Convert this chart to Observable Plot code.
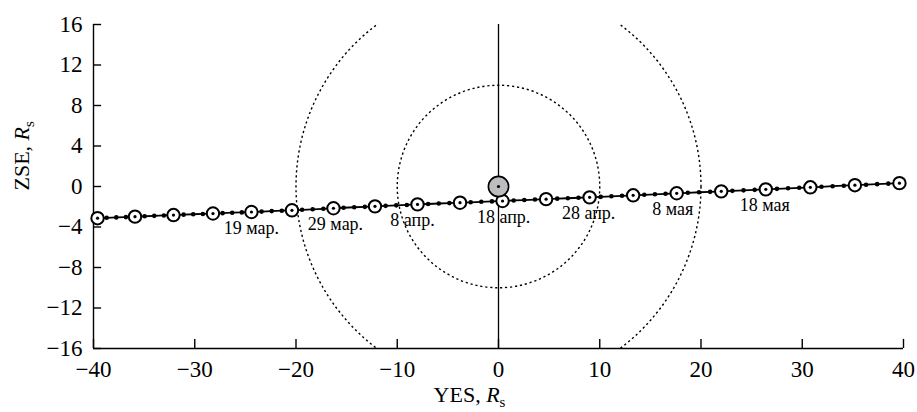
<!DOCTYPE html>
<html><head><meta charset="utf-8">
<script src="https://cdn.jsdelivr.net/npm/d3@7"></script>
<script src="https://cdn.jsdelivr.net/npm/@observablehq/plot@0.6"></script>
<style>body{margin:0;background:#fff}</style>
</head><body><div id="chart"></div>
<script>
// Big (open) markers along the trajectory
const circleX = [-39.6, -35.9, -32.1, -28.2, -24.4, -20.4, -16.3, -12.2, -8.0, -3.8, 0.4, 4.7, 9.0, 13.3, 17.6, 22.0, 26.4, 30.8, 35.2, 39.6];
const circleY = [-3.13, -2.98, -2.82, -2.67, -2.52, -2.35, -2.15, -1.96, -1.77, -1.60, -1.43, -1.25, -1.07, -0.87, -0.67, -0.48, -0.28, -0.08, 0.13, 0.33];
// Small dots between the markers
const dotX = [-38.7, -37.75, -36.8, -34.95, -34.0, -33.05, -31.1, -30.15, -29.2, -27.25, -26.3, -25.35,
  -23.4, -22.4, -21.4, -19.4, -18.35, -17.3, -15.3, -14.25, -13.2, -11.15, -10.1, -9.05,
  -6.95, -5.9, -4.85, -2.75, -1.7, -0.65, 1.5, 2.55, 3.6, 5.8, 6.85, 7.9,
  10.1, 11.15, 12.2, 14.4, 15.45, 16.5, 18.7, 19.8, 20.9, 23.1, 24.2, 25.3,
  27.5, 28.6, 29.7, 31.9, 33.0, 34.1, 36.3, 37.4, 38.5];
const dotY = [-3.09, -3.05, -3.02, -2.94, -2.90, -2.86, -2.78, -2.74, -2.71, -2.63, -2.59, -2.56,
  -2.48, -2.43, -2.39, -2.30, -2.25, -2.20, -2.10, -2.05, -2.01, -1.91, -1.86, -1.82,
  -1.73, -1.68, -1.64, -1.56, -1.51, -1.47, -1.38, -1.34, -1.29, -1.20, -1.16, -1.11,
  -1.02, -0.97, -0.92, -0.82, -0.77, -0.72, -0.62, -0.57, -0.53, -0.43, -0.38, -0.33,
  -0.23, -0.18, -0.13, -0.03, 0.03, 0.08, 0.18, 0.23, 0.28];
// Date labels
const dateLabels = ["19 мар.", "29 мар.", "8 апр.", "18 апр.", "28 апр.", "8 мая", "18 мая"];
const dateLabelX = [-24.4, -16.1, -8.5, 0.5, 8.9, 17.2, 26.3];
const dateLabelY = [-2.52, -2.15, -1.77, -1.43, -1.07, -0.67, -0.28];
// Axes
const xTicks = [-40, -30, -20, -10, 0, 10, 20, 30, 40];
const yTicks = [-16, -12, -8, -4, 0, 4, 8, 12, 16];
const xTitleParts = ["YES, ", "R", "s"];
const yTitleParts = ["ZSE, ", "R", "s"];
// Sun and reference circles (radius in R_s)
const sunRadius = [1];
const zoneRadii = [10, 20];

const font = "'Liberation Serif', 'DejaVu Serif', serif";
const fmt = d => d < 0 ? "\u2212" + Math.abs(d) : String(d);

const big = circleX.map((x, i) => ({x, y: circleY[i]}));
const small = dotX.map((x, i) => ({x, y: dotY[i]}));
const path = big.concat(small).sort((a, b) => a.x - b.x);
const labels = dateLabels.map((t, i) => ({t, x: dateLabelX[i], y: dateLabelY[i]}));

const chart = Plot.plot({
  width: 917, height: 412,
  marginLeft: 93, marginRight: 14, marginTop: 24, marginBottom: 64,
  style: {background: "white", fontFamily: font, color: "black"},
  x: {domain: [-40, 40], axis: null},
  y: {domain: [-16, 16], axis: null},
  r: {type: "linear", domain: [0, 40], range: [0, 405]},
  marks: [
    // reference circles
    Plot.dot(zoneRadii, {x: () => 0, y: () => 0, r: d => d, fill: "none", stroke: "black", strokeWidth: 1.4, strokeDasharray: "2.2,2.8", clip: true}),
    // vertical line at YES = 0
    Plot.ruleX([0], {stroke: "black", strokeWidth: 1.3}),
    // axes lines
    Plot.ruleY([-16], {stroke: "black", strokeWidth: 1.4}),
    Plot.ruleX([-40], {stroke: "black", strokeWidth: 1.4}),
    Plot.ruleX(xTicks, {x: d => d, y1: -16, y2: -15.1, stroke: "black", strokeWidth: 1.4}),
    Plot.ruleY(yTicks, {y: d => d, x1: -40, x2: -39.2, stroke: "black", strokeWidth: 1.4}),
    Plot.text(xTicks, {x: d => d, y: -16, dy: 12, lineAnchor: "top", text: fmt, fontSize: 23, fill: "black"}),
    Plot.text(yTicks, {x: -40, y: d => d, dx: -11, textAnchor: "end", text: fmt, fontSize: 23, fill: "black"}),
    // trajectory
    Plot.line(path, {x: "x", y: "y", stroke: "black", strokeWidth: 1.8}),
    Plot.dot(small, {x: "x", y: "y", r: 2.3, fill: "black"}),
    Plot.dot(big, {x: "x", y: "y", r: 6.2, fill: "white", stroke: "black", strokeWidth: 2}),
    Plot.dot(big, {x: "x", y: "y", r: 1.6, fill: "black"}),
    // Sun
    Plot.dot(sunRadius, {x: () => 0, y: () => 0, r: d => d, fill: "#bdbdbf", stroke: "black", strokeWidth: 1.6}),
    Plot.dot(sunRadius, {x: () => 0, y: () => 0, r: 1.6, fill: "black"}),
    // date labels
    Plot.text(labels, {x: "x", y: "y", text: "t", dy: 16, fontSize: 18, fill: "black"}),
    // axis titles
    Plot.text([xTitleParts.join("")], {frameAnchor: "bottom", dx: -29, dy: 53, fontSize: 22, fill: "black"}),
    Plot.text([yTitleParts.join("")], {frameAnchor: "left", rotate: -90, dx: -72, dy: 4, fontSize: 22, fill: "black"})
  ]
});

function richify(svg, parts) {
  const full = parts.join("");
  d3.select(svg).selectAll("text").filter(function () { return this.textContent === full; }).each(function () {
    const t = d3.select(this);
    t.text(null);
    t.append("tspan").text(parts[0]);
    t.append("tspan").attr("font-style", "italic").text(parts[1]);
    t.append("tspan").attr("font-size", "0.68em").attr("dy", "0.35em").text(parts[2]);
  });
}
richify(chart, xTitleParts);
richify(chart, yTitleParts);
document.getElementById("chart").appendChild(chart);
</script>
</body></html>
